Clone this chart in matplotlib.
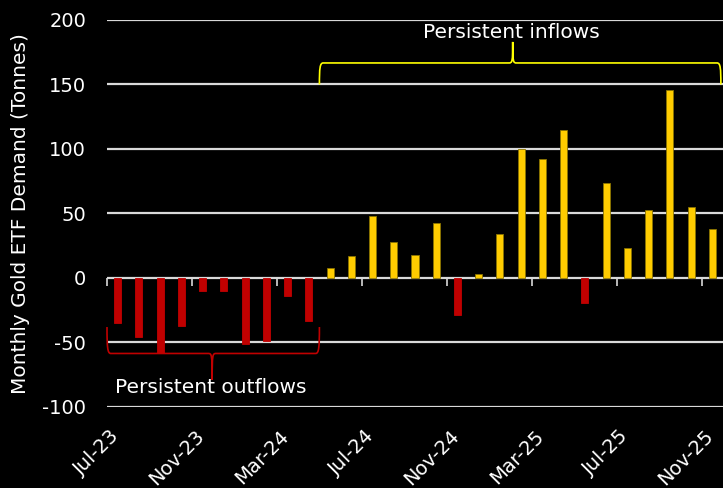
import numpy as np
import matplotlib
matplotlib.use("Agg")
import matplotlib.pyplot as plt
import matplotlib.transforms as mtransforms
from matplotlib.path import Path
from matplotlib.patches import PathPatch

months = ["Jul-23", "Aug-23", "Sep-23", "Oct-23", "Nov-23", "Dec-23",
          "Jan-24", "Feb-24", "Mar-24", "Apr-24", "May-24", "Jun-24",
          "Jul-24", "Aug-24", "Sep-24", "Oct-24", "Nov-24", "Dec-24",
          "Jan-25", "Feb-25", "Mar-25", "Apr-25", "May-25", "Jun-25",
          "Jul-25", "Aug-25", "Sep-25", "Oct-25", "Nov-25"]
demand = [-35, -46, -58, -37, -10, -10, -51, -49, -14, -33, 8, 17,
          48, 28, 18, 43, -29, 3, 34, 100, 92, 115, -19, 74,
          23, 53, 146, 55, 38]
yticks = [-100, -50, 0, 50, 100, 150, 200]

RED = "#C00000"
YELLOW = "#FFCC00"
GRID = "#D9D9D9"


def draw_brace(ax, x0, x1, xm, yb, yt, ytip, color):
    # curly brace: ends at yb, flat part at yt, tip at ytip
    dx = 0.18
    h = yt - yb
    verts = [(x0, yb), (x0, yb + 0.75 * h), (x0 + 0.02, yt), (x0 + dx, yt),
             (xm - dx, yt), (xm - 0.02, yt), (xm, yt + 0.05 * (ytip - yt)), (xm, ytip),
             (xm, yt + 0.05 * (ytip - yt)), (xm + 0.02, yt), (xm + dx, yt),
             (x1 - dx, yt), (x1 - 0.02, yt), (x1, yb + 0.75 * h), (x1, yb)]
    codes = [Path.MOVETO, Path.CURVE4, Path.CURVE4, Path.CURVE4,
             Path.LINETO, Path.CURVE4, Path.CURVE4, Path.CURVE4,
             Path.CURVE4, Path.CURVE4, Path.CURVE4,
             Path.LINETO, Path.CURVE4, Path.CURVE4, Path.CURVE4]
    ax.add_patch(PathPatch(Path(verts, codes), fc="none", ec=color, lw=1.2,
                           clip_on=False, zorder=4))


fig = plt.figure(figsize=(7.23, 4.88), dpi=100, facecolor="black")
ax = fig.add_axes([107 / 723, 1 - 407 / 488, 616 / 723, 387 / 488])
ax.set_facecolor("black")

x = np.arange(len(months))
vals = np.array(demand)
colors = [YELLOW if v > 0 else RED for v in vals]
edges = ["#8a7400" if v > 0 else RED for v in vals]
ax.bar(x, vals, width=0.33, color=colors, edgecolor=edges, linewidth=0.6, zorder=3)

ax.set_xlim(-0.5, len(months) - 0.5)
ax.set_ylim(-100, 200)
ax.set_yticks(yticks)
ax.set_yticklabels([str(t) for t in yticks])
ax.yaxis.grid(True, color=GRID, lw=1.6, zorder=1)
ax.tick_params(axis="y", length=0, pad=15, labelsize=14, labelcolor="white")
for s in ax.spines.values():
    s.set_visible(False)

# month labels at category centres
lab_idx = x[::4]
ax.set_xticks(lab_idx)
ax.set_xticklabels([months[i] for i in lab_idx], rotation=45, ha="right",
                   rotation_mode="anchor", fontsize=14, color="white")
ax.tick_params(axis="x", length=0, pad=14)
shift = mtransforms.ScaledTranslation(-6 / 72, 0, fig.dpi_scale_trans)
for lbl in ax.get_xticklabels():
    lbl.set_transform(lbl.get_transform() + shift)

# category axis on the zero line with ticks between categories
zero_loc = (0 - ax.get_ylim()[0]) / (ax.get_ylim()[1] - ax.get_ylim()[0])
sec = ax.secondary_xaxis(zero_loc)
sec.set_xticks(lab_idx - 0.5)
sec.tick_params(axis="x", length=6, width=1.2, color=GRID, labelbottom=False)
sec.spines["bottom"].set_visible(False)

ax.set_ylabel("Monthly Gold ETF Demand (Tonnes)", color="white", fontsize=14.5, labelpad=8)
ax.yaxis.set_label_coords(-0.125, 0.5)

# braces and annotations
draw_brace(ax, 9.5, 28.4, 18.6, 150, 166.7, 183, "#FFFF00")
ax.text(18.55, 190, "Persistent inflows", color="white", fontsize=14.5,
        ha="center", va="center")
draw_brace(ax, -0.5, 9.5, 4.45, -38, -58.5, -79, RED)
ax.text(4.4, -84.5, "Persistent outflows", color="white", fontsize=14.5,
        ha="center", va="center")

fig.savefig("out.png", dpi=100, facecolor="black")
